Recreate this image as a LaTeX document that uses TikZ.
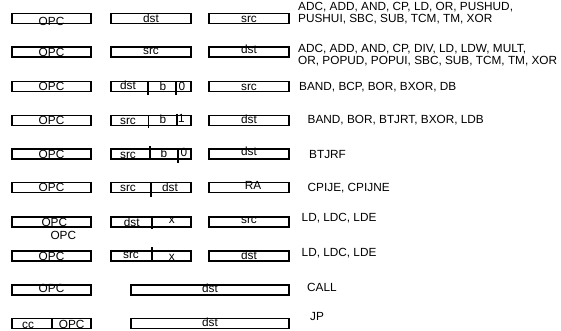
\documentclass[tikz,border=0pt]{standalone}
\usepackage{fontspec}
\setmainfont{Liberation Sans}
\begin{document}
\begin{tikzpicture}[x=1pt,y=-1pt,
  fbox/.style={draw, line width=1.6pt, minimum height=10pt, inner sep=0pt},
  c1/.style={fbox, minimum width=79.4pt},
  c2/.style={fbox, minimum width=80.4pt},
  wide/.style={fbox, minimum width=158.4pt},
  lbl/.style={font=\fontsize{11.8}{11.8}\selectfont, inner sep=0pt, text height=8.5pt, text depth=0pt},
  desc/.style={font=\fontsize{11.8}{11.7}\selectfont, anchor=west, align=left, inner sep=0pt},
  divl/.style={line width=1.6pt}]
\useasboundingbox (0,0) rectangle (561,331);
% Row 1
\node[c1] (b1a) at (51.5,18.5) {};
\node[c2] (b1b) at (151,18.5) {};
\node[c2] (b1c) at (249,18.5) {};
\node[lbl] (t1a) at (51.5,21.5) {OPC};
\node[lbl] (t1b) at (151,18.5) {dst};
\node[lbl] (t1c) at (249,18.5) {src};
\node[desc] (d1) at (298,13.2) {ADC, ADD, AND, CP, LD, OR, PUSHUD,\\PUSHUI, SBC, SUB, TCM, TM, XOR};
% Row 2
\node[c1] (b2a) at (51.5,52) {};
\node[c2] (b2b) at (151,52) {};
\node[c2] (b2c) at (249,52) {};
\node[lbl] (t2a) at (51.5,52) {OPC};
\node[lbl] (t2b) at (151,50) {src};
\node[lbl] (t2c) at (249,49) {dst};
\node[desc] (d2) at (298,55) {ADC, ADD, AND, CP, DIV, LD, LDW, MULT,\\OR, POPUD, POPUI, SBC, SUB, TCM, TM, XOR};
% Row 3
\node[c1] (b3a) at (51.5,86.5) {};
\node[c2] (b3b) at (151,86.5) {};
\node[c2] (b3c) at (249,86.5) {};
\draw[divl] (147.7,81.5) -- (147.7,95.5);
\draw[divl] (175.7,81.5) -- (175.7,95.5);
\node[lbl] (t3a) at (51.5,86.5) {OPC};
\node[lbl] (t3b) at (128,85) {dst};
\node[lbl] (t3bb) at (163,86.5) {b};
\node[lbl] (t3bc) at (182,86.5) {0};
\node[lbl] (t3c) at (249,86.5) {src};
\node[desc] (d3) at (299,87.5) {BAND, BCP, BOR, BXOR, DB};
% Row 4
\node[c1] (b4a) at (51.5,120.5) {};
\node[c2] (b4b) at (151,120.5) {};
\node[c2] (b4c) at (249,120.5) {};
\draw[divl] (148.3,115.5) -- (148.3,128.5);
\draw[divl] (176.7,114.5) -- (176.7,125.5);
\node[lbl] (t4a) at (51.5,120.5) {OPC};
\node[lbl] (t4b) at (128,120.5) {src};
\node[lbl] (t4bb) at (163,119) {b};
\node[lbl] (t4bc) at (181.5,118.5) {1};
\node[lbl] (t4c) at (249,119.5) {dst};
\node[desc] (d4) at (307.5,120) {BAND, BOR, BTJRT, BXOR, LDB};
% Row 5
\node[c1] (b5a) at (51.5,154) {};
\node[c2] (b5b) at (151,154) {};
\node[c2] (b5c) at (249,154) {};
\draw[divl] (150,146) -- (150,159);
\draw[divl] (177.7,149) -- (177.7,163);
\node[lbl] (t5a) at (51.5,154) {OPC};
\node[lbl] (t5b) at (128,154) {src};
\node[lbl] (t5bb) at (164,153) {b};
\node[lbl] (t5bc) at (184,152.5) {0};
\node[lbl] (t5c) at (249,151.5) {dst};
\node[desc] (d5) at (309,154) {BTJRF};
% Row 6
\node[c1] (b6a) at (51.5,187.5) {};
\node[c2] (b6b) at (151,187.5) {};
\node[c2] (b6c) at (249,187.5) {};
\draw[divl] (150.7,182.5) -- (150.7,196.5);
\node[lbl] (t6a) at (51.5,187.5) {OPC};
\node[lbl] (t6b) at (128,187.5) {src};
\node[lbl] (t6bb) at (170,187) {dst};
\node[lbl] (t6c) at (253,185.5) {RA};
\node[desc] (d6) at (307.5,188) {CPIJE, CPIJNE};
% Row 7
\node[c1] (b7a) at (51.5,222) {};
\node[c2] (b7b) at (151,222) {};
\node[c2] (b7c) at (249,222) {};
\draw[divl] (151.7,217) -- (151.7,229);
\node[lbl] (t7a) at (54.3,222) {OPC};
\node[lbl] (t7x) at (63.3,235) {OPC};
\node[lbl] (t7b) at (131.7,222) {dst};
\node[lbl] (t7bb) at (171.7,219) {x};
\node[lbl] (t7c) at (249,219.5) {src};
\node[desc] (d7) at (301.5,218) {LD, LDC, LDE};
% Row 8
\node[c1] (b8a) at (51.5,256) {};
\node[c2] (b8b) at (151,256) {};
\node[c2] (b8c) at (249,256) {};
\draw[divl] (151.7,247) -- (151.7,261);
\node[lbl] (t8a) at (51.5,256.5) {OPC};
\node[lbl] (t8b) at (131,254.5) {src};
\node[lbl] (t8bb) at (171.7,256) {x};
\node[lbl] (t8c) at (249,255) {dst};
\node[desc] (d8) at (301.5,252.7) {LD, LDC, LDE};
% Row 9
\node[c1] (b9a) at (51.5,290) {};
\node[wide] (b9b) at (210,290) {};
\node[lbl] (t9a) at (51.5,288) {OPC};
\node[lbl] (t9b) at (210,288.5) {dst};
\node[desc] (d9) at (307,287) {CALL};
% Row 10
\node[c1] (b10a) at (51.5,323.5) {};
\node[wide] (b10b) at (210,323.5) {};
\draw[divl] (51.7,318.5) -- (51.7,328.5);
\node[lbl] (t10a) at (28,324) {cc};
\node[lbl] (t10aa) at (71.7,324) {OPC};
\node[lbl] (t10b) at (210,322) {dst};
\node[desc] (d10) at (310,316.7) {JP};
\end{tikzpicture}
\end{document}
